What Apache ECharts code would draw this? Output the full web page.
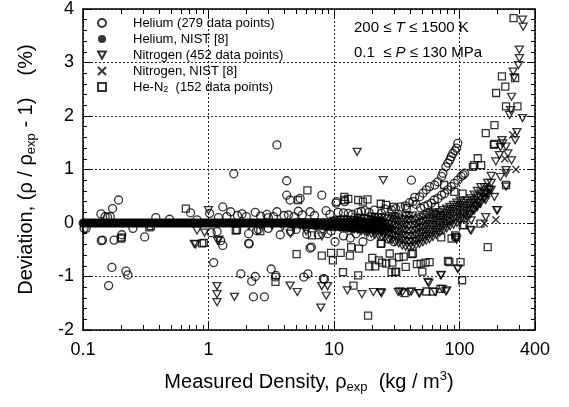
<!DOCTYPE html>
<html><head><meta charset="utf-8">
<script src="https://cdn.jsdelivr.net/npm/echarts@6/dist/echarts.min.js"></script>
<style>html,body{margin:0;padding:0;background:#fff}#c{width:569px;height:407px}</style>
</head><body><div id="c"></div><script>
// ---------- DATA ----------
const xMinorTicks = [0.2,0.3,0.4,0.5,0.6,0.7,0.8,0.9,2,3,4,5,6,7,8,9,20,30,40,50,60,70,80,90,200,300];

const legendLabels = {
  Helium: 'Helium (279 data points)',
  HeliumNIST: 'Helium, NIST [8]',
  Nitrogen: 'Nitrogen (452 data points)',
  NitrogenNIST: 'Nitrogen, NIST [8]',
  HeN2: 'He-N{sub|2}  (152 data points)'
};

const heliumPts = [
[0.102,-0.1],[0.106,-0.1],[0.139,0.17],[0.14,-0.33],[0.143,-0.32],[0.15,0.12],[0.157,0.11],[0.165,0.12],
[0.172,0.27],[0.177,-0.32],[0.192,0.43],[0.16,-1.17],[0.17,-0.83],[0.204,-0.22],[0.22,-0.9],[0.228,-0.97],
[0.25,-0.1],[0.31,-0.26],[0.38,0.1],[0.49,0.07],[0.72,0.19],[0.81,0.06],[1.02,0.18],[1.05,-0.18],[1.1,-0.74],
[1.17,-0.16],[1.25,-0.33],[1.3,-0.42],[1.3,0.3],[1.5,0.21],[1.59,0.92],[1.81,-0.95],[1.85,0.17],[2.09,-0.2],
[2.09,-0.38],[2.11,-0.39],[2.21,-1.09],[2.28,-1.38],[2.36,-1.0],[2.36,0.2],[2.42,-0.14],[2.79,-1.38],[2.92,0.16],
[3.16,-0.86],[3.42,-1.01],[3.45,-0.98],[3.51,1.46],[3.51,0.21],[3.73,-0.22],[4.2,0.79],[4.2,0.52],[4.34,0.15],
[4.47,0.43],[5.2,0.22],[5.37,0.46],[5.75,-1.01],[6.07,-0.21],[6.2,-0.95],[6.45,0.21],[6.45,-0.47],[6.6,-0.45],
[7.51,-0.22],[8.0,0.52],[8.25,-1.04],[8.4,-1.05],[8.65,0.23],[10.2,-0.35],[10.4,0.37],[10.5,0.4],[11.9,0.19],
[11.9,-0.24],[12.2,0.4],[14,0.16],[15.6,0.2],[17.7,0.23],[23.9,0.18],[28.7,0.24],[41.4,0.8],
[1.2,0.1],[1.4,0.12],[1.7,0.14],[2.0,0.12],[2.6,0.13],[3.0,0.1],[3.3,0.12],[4.0,0.14],[4.8,0.12],[5.6,0.15],
[7.0,0.14],[9.3,0.16],[10.8,0.2],[13,0.18],[16.5,0.22],[19,0.2],[21,0.24],[25.5,0.26],[31,0.27],[34,0.3],[37,0.32],
[2.5,-0.12],[3.0,-0.1],[4.5,-0.16],[5.0,-0.12],[8.9,-0.2],[9.5,-0.15],[13.5,-0.28],[15,-0.2],[17,-0.35],[19.5,-0.25],
[27,-0.3],[30,-0.35],[40,0.38],[45,0.35],
[42.6,0.4],[44,0.48],[48.2,0.49],[51.2,0.56],[54.4,0.62],[57.8,0.68],[63.4,0.71],[67.3,0.77],[72,0.87],[73.8,0.93],
[78,1.05],[81,1.12],[84,1.18],[86,1.24],[88.5,1.3],[92,1.35],[95,1.4],[97,1.49],
[49,0.28],[52.5,0.31],[56,0.34],[59.6,0.37],[63,0.43],[67.3,0.46],[72,0.52],[76,0.55],[80.7,0.62],[86,0.68],
[91,0.74],[97,0.8],[103,0.87],[107,0.9],[110,0.93]
];

const heliumNistPts = [
[0.1,0],[0.103,0],[0.107,0],[0.111,0],[0.116,0],[0.12,0],[0.124,0],[0.129,0],[0.134,0],[0.139,0],[0.144,0],[0.15,0],
[0.155,0],[0.161,0],[0.167,0],[0.173,0],[0.18,0],[0.186,0],[0.193,0],[0.2,0],[0.208,0],[0.216,0],[0.224,0],[0.232,0],
[0.241,0],[0.25,0],[0.259,0],[0.269,0],[0.279,0],[0.289,0],[0.3,0],[0.311,0],[0.323,0],[0.335,0],[0.348,0],[0.361,0],
[0.374,0],[0.388,0],[0.403,0],[0.418,0],[0.433,0],[0.449,0],[0.466,0],[0.484,0],[0.502,0],[0.521,0],[0.54,0],[0.56,0],
[0.581,0],[0.603,0],[0.625,0],[0.649,0],[0.673,0],[0.698,0],[0.724,0],[0.751,0],[0.779,0],[0.808,0],[0.838,0],[0.87,0],
[0.902,0],[0.936,0],[0.971,0],[1.008,0],[1.045,0],[1.08,0],[1.12,0],[1.165,0],[1.21,0],[1.255,0],[1.3,0],[1.35,0],
[1.4,0],[1.455,0],[1.51,0],[1.565,0],[1.62,0],[1.685,0],[1.75,0],[1.815,0],[1.88,0],[1.95,0],[2.02,0],[2.1,0],
[2.18,0],[2.26,0],[2.34,0],[2.43,0],[2.52,0],[2.615,0],[2.71,0],[2.815,0],[2.92,0],[3.03,0],[3.14,0],[3.26,0],
[3.38,0],[3.51,0],[3.64,0],[3.78,0],[3.92,0],[4.06,0],[4.21,0],[4.37,0],[4.53,0],[4.7,-0.01],[4.88,0.01],[5.06,-0.02],
[5.25,0.01],[5.45,-0.03],[5.65,0.01],[5.86,-0.03],[6.08,0.01],[6.31,-0.04],[6.54,0.01],[6.79,-0.04],[7.04,0.01],
[7.31,-0.05],[7.58,0.01],[7.86,-0.05],[8.15,0.01],[8.46,-0.06],[8.77,0.01],[9.1,-0.06],[9.44,0.01],[9.8,-0.07],
[10.2,0.01],[10.55,-0.07],[10.9,0.01],[11.35,-0.08],[11.8,0.01],[12.25,-0.08],[12.7,0.01],[13.15,-0.09],[13.6,0.01],
[14.15,-0.1],[14.7,0.01],[15.25,-0.1],[15.8,0.01],[16.4,-0.11],[17,0.01],[17.65,-0.11],[18.3,0.01],[19,-0.12],
[19.7,0.01],[20.45,-0.12],[21.2,0.01],[22,-0.13],[22.8,0.01],[23.65,-0.13],[24.5,0.0],[26,-0.12],[28,-0.1]
];

const nitrogenPts = [
[0.77,-0.39],[0.79,-0.4],[0.81,-0.14],[0.93,-0.18],[1.0,0.24],[1.17,-1.18],[1.17,-1.33],[1.17,-1.48],[1.18,-0.33],
[1.21,-0.31],[1.61,-1.38],[4.47,-1.17],[5.1,-1.29],[7.86,-1.58],[8.0,-1.18],[8.67,-1.36],[8.9,-1.18],[12.8,-1.26],
[15.3,1.33],[16.7,-1.33],[20.6,-1.29],[23.6,-1.29],[24.7,0.8],[32.5,-1.29],[35.1,-1.29],[40,-1.29],[47.5,-1.31],
[56,-1.1],[64,-1.29],[71,-0.98],[73,-1.23],[79,-1.26],[94,-0.28],[97,-0.86],[122,-0.13],[318,3.8],[322,3.67],
[300,3.24],[300,3.08],[295,2.95],[268,2.83],[272,2.72],[260,2.36],[256,2.11],[251,2.02],[318,1.96],[287,1.7],
[278,1.55],[218,1.55],[212,1.42],[243,1.3],[260,1.17],[235,0.99],[212,0.86],[235,0.68],[190,0.49],[198,0.24],
[162,0.43],[124,0.05],[124,-0.14],[162,0.11],[221,1.49],[235,1.43],[208,1.27],[195,1.15],[235,0.93],[201,0.24],
[173,0.62],[163,0.55],[158,0.49],[144,0.37],[136,0.3],[128,0.24],[120,0.15],[95,-0.31],[97,-0.85],[71.6,-0.97],
[57,-1.12],[33.4,-1.28],[41.4,-1.28],[48.2,-1.31],[78,-1.28],[23.9,-1.31],[4.5,-0.2],[6,-0.15],[8,-0.25],
[2.1,-0.05],[2.6,-0.06],[3.2,-0.05],[3.9,-0.07],[4.8,-0.06],[5.8,-0.08],[7.1,-0.07],[8.6,-0.09],
[10,-0.05],[10,0.04],[11.3,-0.08],[11.3,0.0],[11.3,0.06],[12.8,-0.1],[12.8,-0.02],[12.8,0.06],
[14.5,-0.12],[14.5,-0.04],[14.5,0.05],[16.5,-0.15],[16.5,-0.07],[16.5,0.02],[16.5,0.09],
[18.7,-0.18],[18.7,-0.1],[18.7,-0.02],[18.7,0.07],[21.2,-0.22],[21.2,-0.13],[21.2,-0.05],[21.2,0.04],[21.2,0.11],
[24,-0.26],[24,-0.17],[24,-0.08],[24,0.02],[24,0.1],[27.2,-0.3],[27.2,-0.2],[27.2,-0.11],[27.2,-0.02],[27.2,0.08],
[30.8,-0.35],[30.8,-0.25],[30.8,-0.15],[30.8,-0.05],[30.8,0.05],[30.8,0.12],
[35,-0.42],[35,-0.32],[35,-0.22],[35,-0.12],[35,-0.03],[35,0.07],
[39.6,-0.45],[39.6,-0.36],[39.6,-0.26],[39.6,-0.16],[39.6,-0.06],[39.6,0.04],[39.6,0.13],
[45,-0.42],[45,-0.33],[45,-0.23],[45,-0.13],[45,-0.03],[45,0.07],
[51,-0.36],[51,-0.27],[51,-0.17],[51,-0.08],[51,0.02],[51,0.12],
[57.8,-0.3],[57.8,-0.21],[57.8,-0.12],[57.8,-0.02],[57.8,0.08],[57.8,0.18],
[65.5,-0.22],[65.5,-0.13],[65.5,-0.04],[65.5,0.06],[65.5,0.15],
[74.3,-0.14],[74.3,-0.05],[74.3,0.05],[74.3,0.14],[74.3,0.24],
[84.2,-0.06],[84.2,0.03],[84.2,0.13],[84.2,0.22],[84.2,0.3],
[95.5,0.0],[95.5,0.1],[95.5,0.2],[95.5,0.3],[95.5,0.38],
[108,0.08],[108,0.18],[108,0.28],[108,0.38],[123,0.17],[123,0.27],[123,0.37],[123,0.46],
[139,0.3],[139,0.4],[139,0.5],[139,0.6],[158,0.45],[158,0.55],[158,0.67],[179,0.62],[179,0.75],[179,0.88],
[10.6,-0.03],[10.6,0.05],[12,-0.09],[12,-0.01],[12,0.07],[13.6,-0.11],[13.6,-0.03],[13.6,0.06],
[15.5,-0.13],[15.5,-0.05],[15.5,0.04],[15.5,0.1],[17.6,-0.16],[17.6,-0.08],[17.6,0.0],[17.6,0.08],
[19.9,-0.2],[19.9,-0.11],[19.9,-0.03],[19.9,0.06],[19.9,0.12],[22.6,-0.24],[22.6,-0.15],[22.6,-0.06],[22.6,0.03],[22.6,0.11],
[25.6,-0.28],[25.6,-0.19],[25.6,-0.1],[25.6,0.0],[25.6,0.09],[29,-0.32],[29,-0.22],[29,-0.13],[29,-0.03],[29,0.07],[29,0.13],
[32.8,-0.38],[32.8,-0.28],[32.8,-0.18],[32.8,-0.08],[32.8,0.02],[32.8,0.1],
[37.2,-0.44],[37.2,-0.34],[37.2,-0.24],[37.2,-0.14],[37.2,-0.04],[37.2,0.06],[37.2,0.14],
[42.2,-0.44],[42.2,-0.35],[42.2,-0.25],[42.2,-0.15],[42.2,-0.05],[42.2,0.05],[42.2,0.14],
[48,-0.39],[48,-0.3],[48,-0.2],[48,-0.1],[48,0.0],[48,0.1],[54.3,-0.33],[54.3,-0.24],[54.3,-0.14],[54.3,-0.05],[54.3,0.05],[54.3,0.15],
[61.5,-0.26],[61.5,-0.17],[61.5,-0.07],[61.5,0.03],[61.5,0.12],[61.5,0.2],[69.8,-0.18],[69.8,-0.09],[69.8,0.0],[69.8,0.1],[69.8,0.2],
[79.1,-0.1],[79.1,-0.01],[79.1,0.09],[79.1,0.18],[79.1,0.27],[89.7,-0.03],[89.7,0.07],[89.7,0.16],[89.7,0.26],[89.7,0.34],
[101.6,0.04],[101.6,0.14],[101.6,0.24],[101.6,0.34],[101.6,0.42],[115,0.12],[115,0.22],[115,0.32],[115,0.42],
[131,0.23],[131,0.33],[131,0.43],[131,0.53],[148,0.37],[148,0.47],[148,0.57],[148,0.67],[168,0.53],[168,0.63],[168,0.75]
];

const nitrogenNistPts = [
[158,-0.01],[195,0.06],[282,1.0],[265,1.65],[230,1.2],[175,0.6],[140,0.35],[110,0.1]
];

const heN2Pts = [
[0.2,-0.29],[0.204,-0.27],[0.338,-0.08],[0.347,-0.06],[0.66,0.27],[0.89,-0.38],[0.918,-0.37],[1.65,-0.14],
[1.69,-0.13],[2.59,-0.15],[3.42,-1.1],[5.18,0.43],[5.04,-0.58],[6.14,0.61],[6.67,-0.23],[8.0,-0.61],[9.48,-0.56],
[9.8,-0.7],[11.3,-0.56],[11.8,-0.92],[12.1,0.49],[12.1,0.43],[13.4,-0.61],[13.7,-0.45],[14.3,-1.17],[15.6,0.43],
[15.6,-0.98],[15.8,-0.48],[18.5,0.44],[18.7,-1.73],[19.1,-0.81],[20.2,-0.65],[21.3,-0.81],[22.8,-0.7],[23.6,-0.39],
[23.6,0.36],[24.2,-0.74],[23.9,-0.38],[26.1,-0.76],[27.8,-0.57],[28.8,-0.92],[29.2,-0.74],[30.8,-0.92],[31.3,-0.91],
[32.9,-0.64],[35.9,-0.63],[36.5,-1.31],[37.3,-0.82],[41.6,-0.58],[42.6,-0.57],[45.8,-0.77],[49.1,-0.76],[50.6,-0.91],
[53.7,-0.74],[54.4,-1.28],[57.8,-0.73],[61.4,-1.28],[64,0.3],[70.6,-1.23],[71,0.14],[71.6,-0.27],[75.5,0.71],
[81,-0.71],[83,-0.73],[86.5,-0.29],[91,0.58],[92.5,-0.23],[94,-0.26],[102,-0.73],[105,-1.07],[106,0.55],[106,-0.04],
[109,-0.04],[128,1.05],[131,1.08],[140,1.21],[149,1.08],[147,-0.01],[162,1.68],[168,-0.45],[188,1.46],[190,1.83],
[190,1.48],[196,2.43],[218,2.74],[232,2.55],[235,2.18],[235,0.71],[270,3.83],[278,2.71],[290,2.18],
[13,0.45],[17,0.4],[26,0.34],[30,0.3],[38,0.28]
];

// ---------- CHART ----------
const FONT = 'Liberation Sans, Arial, sans-serif';
const chart = echarts.init(document.getElementById('c'), null, {renderer:'canvas'});
const black = '#000';
const hollow = {color:'rgba(255,255,255,0)', borderColor:black, borderWidth:1.3};
const axisCommon = {
  axisLine:{show:true, onZero:false, lineStyle:{color:black, width:1.5}},
  axisTick:{show:true, inside:true, length:8, lineStyle:{color:black, width:1}},
};
const option = {
  animation:false,
  backgroundColor:'#fff',
  textStyle:{fontFamily:FONT, color:black},
  grid:{left:83, right:34, top:9, bottom:77, containLabel:false},
  legend:{
    orient:'vertical', left:97, top:15, padding:0,
    itemWidth:8, itemHeight:8, itemGap:0,
    data:[
      {name:'Helium', icon:'circle'},
      {name:'HeliumNIST', icon:'circle'},
      {name:'Nitrogen', icon:'path://M0,0L10,0L5,9Z'},
      {name:'NitrogenNIST', icon:'path://M0,0L10,10M10,0L0,10'},
      {name:'HeN2', icon:'rect'}
    ],
    formatter: n => '{g| }' + legendLabels[n],
    selectedMode:false,
    textStyle:{fontFamily:FONT, fontSize:13, color:black, lineHeight:16,
      rich:{g:{width:22, fontSize:13, lineHeight:16},
            sub:{fontFamily:FONT, fontSize:9, color:black, lineHeight:10, padding:[6,0,0,0]}}}
  },
  xAxis:[
    Object.assign({type:'log', logBase:10, min:0.1, max:400, position:'bottom',
      name:'Measured Density, ρ{sub|exp}  (kg / m{sup|3})', nameLocation:'middle', nameGap:40,
      nameTextStyle:{fontFamily:FONT, fontSize:20, color:black,
        rich:{sub:{fontFamily:FONT, fontSize:13, color:black, padding:[11,0,0,0]},
              sup:{fontFamily:FONT, fontSize:13, color:black, padding:[0,0,11,0]}}},
      axisLabel:{fontSize:18, color:black, margin:11, showMinLabel:true, showMaxLabel:true},
      splitLine:{show:true, lineStyle:{color:'#222', type:[2,2], width:1}}
    }, axisCommon),
    Object.assign({type:'log', logBase:10, min:0.1, max:400, position:'top',
      axisLabel:{show:false}, splitLine:{show:false}}, axisCommon)
  ],
  yAxis:[
    Object.assign({type:'value', min:-2, max:4, interval:1, position:'left',
      name:'Deviation, (ρ / ρ{sub|exp} - 1)    (%)', nameLocation:'middle', nameGap:45, nameRotate:90,
      nameTextStyle:{fontFamily:FONT, fontSize:20, color:black,
        rich:{sub:{fontFamily:FONT, fontSize:13, color:black, padding:[11,0,0,0]}}},
      axisLabel:{fontSize:18, color:black, margin:9},
      minorTick:{show:true, splitNumber:5, length:4, lineStyle:{color:black, width:1}},
      splitLine:{show:true, lineStyle:{color:'#222', type:[2,2], width:1}}
    }, axisCommon),
    Object.assign({type:'value', min:-2, max:4, interval:1, position:'right',
      axisLabel:{show:false}, splitLine:{show:false},
      minorTick:{show:true, splitNumber:5, length:4, lineStyle:{color:black, width:1}}
    }, axisCommon)
  ],
  graphic:[
    {type:'text', left:354, top:20, style:{text:'200 {u|≤} {i|T} {u|≤} 1500 K', font:'15px '+FONT, fill:black,
      rich:{u:{fontFamily:FONT, fontSize:15, fill:black}, i:{fontFamily:FONT, fontSize:15, fontStyle:'italic', fill:black}}}},
    {type:'text', left:354, top:45, style:{text:'0.1  {u|≤} {i|P} {u|≤} 130 MPa', font:'15px '+FONT, fill:black,
      rich:{u:{fontFamily:FONT, fontSize:15, fill:black}, i:{fontFamily:FONT, fontSize:15, fontStyle:'italic', fill:black}}}}
  ],
  series:[
    {name:'HeliumNIST', type:'scatter', data:heliumNistPts, symbol:'circle', symbolSize:9,
      itemStyle:{color:black, borderWidth:0}, z:2},
    {name:'Helium', type:'scatter', data:heliumPts, symbol:'circle', symbolSize:8, itemStyle:hollow, z:3},
    {name:'Nitrogen', type:'scatter', data:nitrogenPts, symbol:'path://M0,0L10,0L5,9Z', symbolSize:[8,7],
      itemStyle:hollow, z:3},
    {name:'NitrogenNIST', type:'scatter', data:nitrogenNistPts, symbol:'path://M0,0L10,10M10,0L0,10', symbolSize:7,
      itemStyle:hollow, z:3},
    {name:'HeN2', type:'scatter', data:heN2Pts, symbol:'rect', symbolSize:7, itemStyle:hollow, z:3},
    {name:'minorTicks', type:'custom', silent:true, clip:false, z:5,
      data:xMinorTicks.map(v => [v, 0]),
      renderItem:function(params, api){
        const x = Math.round(api.coord([api.value(0), 0])[0]) + 0.5;
        const cs = params.coordSys;
        const top = cs.y, bot = cs.y + cs.height;
        return {type:'group', children:[
          {type:'line', shape:{x1:x, y1:bot, x2:x, y2:bot-5}, style:{stroke:black, lineWidth:1}},
          {type:'line', shape:{x1:x, y1:top, x2:x, y2:top+5}, style:{stroke:black, lineWidth:1}}
        ]};
      }}
  ]
};
chart.setOption(option);
</script></body></html>
